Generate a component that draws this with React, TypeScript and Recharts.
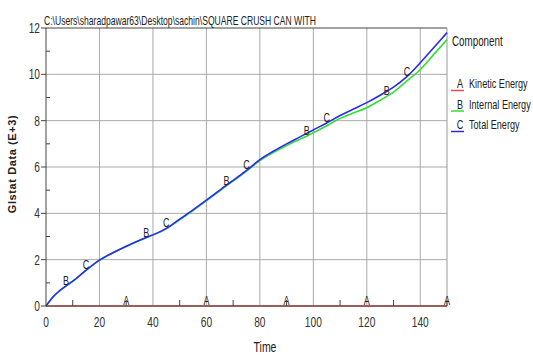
import React from "react"
import { LineChart, Line, XAxis, YAxis, CartesianGrid, ReferenceLine } from "recharts"

const time = [0, 2.5, 5, 7.5, 10, 15, 20, 25, 30, 35, 37.5, 40, 45, 50, 55, 60, 65, 67.5, 70, 75, 80, 85, 90, 95, 97.5, 100, 105, 110, 115, 120, 125, 127.5, 130, 135, 140, 145, 150]
const totalEnergy = [0, 0.38, 0.65, 0.87, 1.07, 1.55, 1.98, 2.3, 2.58, 2.84, 2.96, 3.07, 3.35, 3.75, 4.15, 4.57, 5.0, 5.22, 5.42, 5.85, 6.32, 6.68, 7.0, 7.3, 7.45, 7.6, 7.9, 8.22, 8.5, 8.78, 9.1, 9.27, 9.45, 9.9, 10.5, 11.15, 11.8]
const internalEnergy = [0, 0.37, 0.64, 0.86, 1.06, 1.54, 1.97, 2.29, 2.57, 2.83, 2.95, 3.06, 3.33, 3.72, 4.12, 4.54, 4.97, 5.19, 5.39, 5.82, 6.28, 6.62, 6.93, 7.2, 7.33, 7.48, 7.78, 8.1, 8.33, 8.56, 8.88, 9.05, 9.23, 9.72, 10.2, 10.85, 11.5]
const kineticEnergy = time.map(() => 0)

const kineticMarks = [30, 60, 90, 120, 150]
const internalMarks = [7.5, 37.5, 67.5, 97.5, 127.5]
const totalMarks = [15, 45, 75, 105, 135]

const yTicks = [0, 1, 2, 3, 4, 5, 6, 7, 8, 9, 10, 11, 12]
const xTicks = [0, 10, 20, 30, 40, 50, 60, 70, 80, 90, 100, 110, 120, 130, 140, 150]

const series = [
  { key: "kinetic", letter: "A", name: "Kinetic Energy", color: "#f04848", marks: kineticMarks },
  { key: "internal", letter: "B", name: "Internal Energy", color: "#33dd33", marks: internalMarks },
  { key: "total", letter: "C", name: "Total Energy", color: "#2b2bf0", marks: totalMarks },
]

const data = time.map((t, i) => ({
  time: t,
  kinetic: kineticEnergy[i],
  internal: internalEnergy[i],
  total: totalEnergy[i],
}))

const font = "'Liberation Sans', Arial, sans-serif"

// condensed text: Liberation Sans squeezed horizontally
const NText = ({ x, y, size = 13, sx = 0.72, anchor = "start", fill = "#222", children }: any) => (
  <text
    transform={`translate(${x},${y}) scale(${sx},1)`}
    textAnchor={anchor}
    fontFamily={font}
    fontSize={size}
    fill={fill}
  >
    {children}
  </text>
)

const makeDot = (letter: string, marks: number[]) => (props: any) => {
  const { cx, cy, payload, index } = props
  if (!marks.includes(payload.time)) return <g key={`d-${letter}-${index}`} />
  return (
    <g key={`d-${letter}-${index}`}>
      <NText x={cx} y={cy - 1} size={12} sx={0.75} anchor="middle">
        {letter}
      </NText>
    </g>
  )
}

const YTick = (props: any) => {
  const { x, y, payload } = props
  const v = payload.value
  if (v % 2 === 1) {
    return <line x1={x} x2={x + 4} y1={y} y2={y} stroke="#444" />
  }
  return (
    <g>
      <line x1={x - 5} x2={x} y1={y} y2={y} stroke="#444" />
      <NText x={x - 6} y={y + 5} size={15} sx={0.68} anchor="end" fill="#333">
        {v}
      </NText>
    </g>
  )
}

const XTick = (props: any) => {
  const { x, y, payload } = props
  const v = payload.value
  if (v % 20 === 10) {
    return <line x1={x} x2={x} y1={y} y2={y - 6} stroke="#444" />
  }
  return (
    <NText x={x} y={y + 21} size={15} sx={0.68} anchor="middle" fill="#333">
      {v}
    </NText>
  )
}

export default function App() {
  return (
    <div style={{ position: "absolute", left: 0, top: 0, width: 533, height: 356, background: "#fff" }}>
      <LineChart width={533} height={356} data={data} margin={{ top: 28, right: 86, bottom: 20, left: 0 }}>
        <CartesianGrid stroke="#aaa" strokeWidth={1} horizontalValues={[2, 4, 6, 8, 10]} verticalValues={[20, 40, 60, 80, 100, 120, 140]} />
        <XAxis
          dataKey="time"
          type="number"
          domain={[0, 150]}
          ticks={xTicks}
          interval={0}
          height={30}
          tickSize={0}
          tickMargin={0}
          tickLine={false}
          tick={XTick}
          axisLine={{ stroke: "#444" }}
        />
        <YAxis
          type="number"
          domain={[0, 12]}
          ticks={yTicks}
          interval={0}
          width={46}
          tickSize={0}
          tickMargin={0}
          tickLine={false}
          tick={YTick}
          axisLine={{ stroke: "#444" }}
        />
        <ReferenceLine y={12} stroke="#444" />
        <ReferenceLine x={150} stroke="#999" />
        {series.map((s) => (
          <Line
            key={s.key}
            dataKey={s.key}
            name={s.name}
            stroke={s.color}
            strokeWidth={1.6}
            type="monotone"
            dot={makeDot(s.letter, s.marks)}
            activeDot={false}
            isAnimationActive={false}
          />
        ))}
      </LineChart>
      <svg width={533} height={356} style={{ position: "absolute", left: 0, top: 0, pointerEvents: "none" }}>
        <text x={44} y={25} fontFamily={font} fontSize={13} fill="#222" textLength={272} lengthAdjust="spacingAndGlyphs">
          C:\Users\sharadpawar63\Desktop\sachin\SQUARE CRUSH CAN WITH
        </text>
        <text
          x={0}
          y={0}
          transform="translate(16,164) rotate(-90)"
          textAnchor="middle"
          fontFamily={font}
          fontWeight="bold"
          fontSize={11}
          letterSpacing={0.6}
          fill="#222"
        >
          Glstat Data (E+3)
        </text>
        <NText x={265} y={352} size={15} sx={0.7} anchor="middle">
          Time
        </NText>
        <NText x={452} y={46} size={14} sx={0.7}>
          Component
        </NText>
        {series.map((s, i) => (
          <g key={s.key}>
            <line x1={451} x2={464} y1={90.5 + i * 20.5} y2={90.5 + i * 20.5} stroke={s.color} strokeWidth={1.5} />
            <NText x={460} y={88 + i * 20.5} size={13} sx={0.7} anchor="middle">
              {s.letter}
            </NText>
            <NText x={469} y={88 + i * 20.5} size={13} sx={0.7}>
              {s.name}
            </NText>
          </g>
        ))}
      </svg>
    </div>
  )
}
